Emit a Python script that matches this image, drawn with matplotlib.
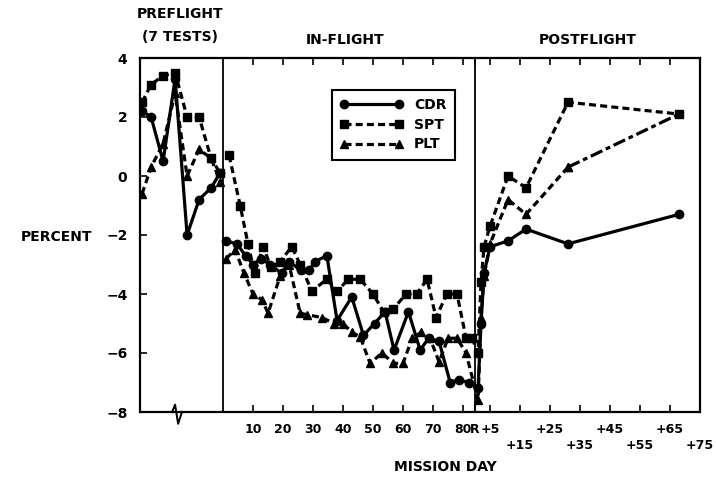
import numpy as np
import matplotlib
matplotlib.use("Agg")
import matplotlib.pyplot as plt

# Preflight tests (placed left of day 0 on the broken axis)
pre_x = [-27, -24, -20, -16, -12, -8, -4, -1]
cdr_pre = [2.2, 2.0, 0.5, 3.3, -2.0, -0.8, -0.4, 0.1]
spt_pre = [2.5, 3.1, 3.4, 3.5, 2.0, 2.0, 0.6, 0.1]
plt_pre = [-0.6, 0.3, 1.1, 2.8, 0.0, 0.9, 0.6, -0.2]

# In-flight (mission day)
cdr_days = [1, 4.6, 7.5, 10, 12.5, 15.7, 19.5, 22, 26, 28.5, 30.7, 34.6, 38,
            42.9, 46.8, 50.5, 54, 57, 61.8, 65.7, 68.5, 72, 75.7, 78.5, 82]
cdr_in = [-2.2, -2.3, -2.7, -3.0, -2.8, -3.0, -3.3, -2.9, -3.2, -3.2, -2.9,
          -2.7, -4.9, -4.1, -5.4, -5.0, -4.6, -5.9, -4.6, -5.9, -5.5, -5.6,
          -7.0, -6.9, -7.0]
spt_days = [2, 5.7, 8.3, 10.5, 13.4, 16, 19, 22.9, 25.7, 29.6, 34.6, 38, 41.8,
            45.7, 50, 53.5, 56.8, 61, 64.6, 68, 71, 74.6, 78, 81, 83]
spt_in = [0.7, -1.0, -2.3, -3.3, -2.4, -3.1, -2.9, -2.4, -3.0, -3.9, -3.5,
          -3.9, -3.5, -3.5, -4.0, -4.6, -4.5, -4.0, -4.0, -3.5, -4.8, -4.0,
          -4.0, -5.5, -5.5]
plt_days = [1, 4, 7, 10, 13, 15, 19, 22, 25.7, 28, 33, 37, 40, 43, 45.7, 49,
            53, 56.8, 60, 63, 66, 69, 72, 75, 78, 81]
plt_in = [-2.8, -2.5, -3.3, -4.0, -4.2, -4.65, -3.4, -3.0, -4.65, -4.7, -4.8,
          -5.0, -5.0, -5.3, -5.45, -6.35, -6.0, -6.35, -6.35, -5.5, -5.3,
          -5.5, -6.3, -5.5, -5.5, -6.0]

# Postflight (days after recovery, R = day 84)
R_DAY = 84
post_days = [1, 2, 3, 5, 11, 17, 31, 68]
cdr_post = [-7.2, -5.0, -3.3, -2.4, -2.2, -1.8, -2.3, -1.3]
spt_post = [-6.0, -3.6, -2.4, -1.7, 0.0, -0.4, 2.5, 2.1]
plt_post = [-7.6, -4.8, -3.4, -2.3, -0.8, -1.3, 0.3, 2.1]

inflight_ticks = [10, 20, 30, 40, 50, 60, 70, 80]
post_ticks = [5, 15, 25, 35, 45, 55, 65, 75]

W, H = 716, 479
fig = plt.figure(figsize=(W / 100, H / 100), dpi=100)
ax = fig.add_axes([140 / W, 1 - 412 / H, 560 / W, 354 / H])

dash = (0, (2.2, 1.3))
styles = {
    "CDR": dict(marker="o", linestyle="-"),
    "SPT": dict(marker="s", linestyle=dash),
    "PLT": dict(marker="^", linestyle=dash),
}
series = {
    "CDR": (cdr_pre, cdr_days, cdr_in, cdr_post),
    "SPT": (spt_pre, spt_days, spt_in, spt_post),
    "PLT": (plt_pre, plt_days, plt_in, plt_post),
}
kw = dict(color="black", lw=2.3, markersize=6)
post_x = [R_DAY + d for d in post_days]
for name, (pre, days, vin, post) in series.items():
    st = styles[name]
    ax.plot(pre_x, pre, **st, **kw)
    if name == "PLT":
        # last PLT segment is drawn dash-dot in the original
        ax.plot(days + post_x[:-1], vin + post[:-1], **st, **kw, label=name)
        ax.plot(post_x[-2:], post[-2:], marker="^", markevery=[0],
                linestyle=(0, (4, 1.2, 1.5, 1.2)), **kw)
    else:
        ax.plot(days + post_x, vin + post, **st, **kw, label=name)

# section dividers
ax.axvline(0, color="black", lw=1.3)
ax.axvline(R_DAY, color="black", lw=1.3)

ax.set_xlim(-27.7, R_DAY + 75)
ax.set_ylim(-8, 4)
ax.set_yticks(np.arange(-8, 5, 2))

xt = inflight_ticks + [R_DAY] + [R_DAY + d for d in post_ticks]
xl = [str(t) for t in inflight_ticks] + ["R"]
for i, d in enumerate(post_ticks):
    xl.append("+%d" % d if i % 2 == 0 else "\n+%d" % d)
ax.set_xticks(xt)
ax.set_xticklabels(xl, fontweight="bold", fontsize=9, linespacing=1.3)
for lab in ax.get_yticklabels():
    lab.set_fontweight("bold")
    lab.set_fontsize(10)
ax.tick_params(axis="x", direction="in", top=True, length=5, width=1.2,
               pad=8)
ax.tick_params(axis="y", direction="in", length=5, width=1.2, pad=9)
for s in ax.spines.values():
    s.set_linewidth(1.6)

# broken-axis mark on the preflight part
ax.plot([-17, -16, -15, -13.7], [-8, -7.75, -8.4, -8], color="black",
        lw=1.4, clip_on=False)

leg = ax.legend(loc="upper left", bbox_to_anchor=(325 / W, 1 - 83 / H),
                bbox_transform=fig.transFigure, numpoints=2, handlelength=4.5,
                fancybox=False, edgecolor="black", framealpha=1,
                prop=dict(weight="bold", size=10), borderpad=0.6,
                labelspacing=0.4)
leg.get_frame().set_linewidth(1.5)

tkw = dict(fontweight="bold", fontsize=10, ha="center", va="center")
fig.text(180 / W, 1 - 14 / H, "PREFLIGHT", **tkw)
fig.text(180 / W, 1 - 37 / H, "(7 TESTS)", **tkw)
fig.text(345 / W, 1 - 40 / H, "IN-FLIGHT", **tkw)
fig.text(588 / W, 1 - 40 / H, "POSTFLIGHT", **tkw)
fig.text(57 / W, 1 - 237 / H, "PERCENT", **tkw)
fig.text(445 / W, 1 - 467 / H, "MISSION DAY", **tkw)

fig.savefig("out.png", dpi=100)
